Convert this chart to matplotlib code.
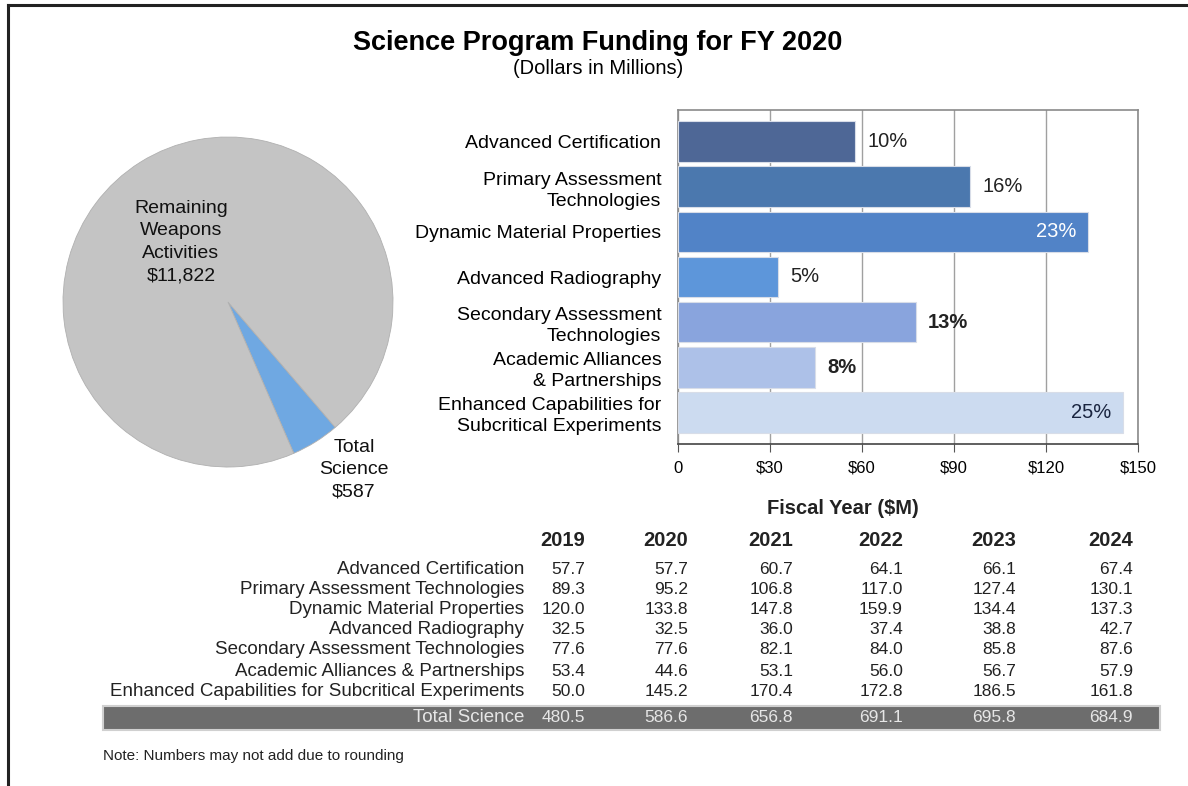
import matplotlib
matplotlib.use("Agg")
import matplotlib.pyplot as plt
from matplotlib.patches import Rectangle
from matplotlib.lines import Line2D

plt.rcParams['font.family'] = ['Liberation Sans', 'DejaVu Sans']

W, H = 1188, 786

# ---- data ----
programs = [
    "Advanced Certification",
    "Primary Assessment Technologies",
    "Dynamic Material Properties",
    "Advanced Radiography",
    "Secondary Assessment Technologies",
    "Academic Alliances & Partnerships",
    "Enhanced Capabilities for Subcritical Experiments",
]
bar_labels = [
    "Advanced Certification",
    "Primary Assessment\nTechnologies",
    "Dynamic Material Properties",
    "Advanced Radiography",
    "Secondary Assessment\nTechnologies",
    "Academic Alliances\n& Partnerships",
    "Enhanced Capabilities for\nSubcritical Experiments",
]
years = ["2019", "2020", "2021", "2022", "2023", "2024"]
fy2019 = [57.7, 89.3, 120.0, 32.5, 77.6, 53.4, 50.0]
fy2020 = [57.7, 95.2, 133.8, 32.5, 77.6, 44.6, 145.2]
fy2021 = [60.7, 106.8, 147.8, 36.0, 82.1, 53.1, 170.4]
fy2022 = [64.1, 117.0, 159.9, 37.4, 84.0, 56.0, 172.8]
fy2023 = [66.1, 127.4, 134.4, 38.8, 85.8, 56.7, 186.5]
fy2024 = [67.4, 130.1, 137.3, 42.7, 87.6, 57.9, 161.8]
totals = [480.5, 586.6, 656.8, 691.1, 695.8, 684.9]
share_labels = ["10%", "16%", "23%", "5%", "13%", "8%", "25%"]

pie_labels = ["Total\nScience\n$587", "Remaining\nWeapons\nActivities\n$11,822"]
pie_values = [587, 11822]

bar_colors = ["#4e6796", "#4b78ae", "#5183c7", "#5d96da", "#89a4dd", "#adc1e8", "#ccdbf0"]

fig = plt.figure(figsize=(W / 100, H / 100), dpi=100)
fig.patch.set_facecolor("white")


def fx(x):
    return x / W


def fy(y):
    return 1 - y / H


def px_axes(left, top, right, bottom):
    return fig.add_axes([fx(left), fy(bottom), (right - left) / W, (bottom - top) / H])


# page frame (top and left rules)
fig.add_artist(Line2D([fx(8), 1.0], [fy(5), fy(5)], color="#222222", lw=2.2))
fig.add_artist(Line2D([fx(8), fx(8)], [fy(5), 0.0], color="#222222", lw=2.2))

# titles
fig.text(fx(598), fy(43), "Science Program Funding for FY 2020", ha="center", va="center",
         fontsize=19.5, fontweight="bold", color="black")
fig.text(fx(598), fy(69), "(Dollars in Millions)", ha="center", va="center",
         fontsize=14.5, color="black")

# ---- pie ----
cx, cy, r = 228, 302, 165
pax = px_axes(cx - r, cy - r, cx + r, cy + r)
pax.pie(pie_values, colors=["#6fa8e2", "#c4c4c4"], startangle=-66.5, counterclock=True,
        radius=1.0, wedgeprops=dict(edgecolor="#b0b0b0", linewidth=0.6))
pax.set_xlim(-1, 1)
pax.set_ylim(-1, 1)
pax.set_aspect("equal")
pax.axis("off")
fig.text(fx(181), fy(242), pie_labels[1], ha="center", va="center", fontsize=14,
         linespacing=1.42, color="#111111")
fig.text(fx(354), fy(470), pie_labels[0], ha="center", va="center", fontsize=14,
         linespacing=1.42, color="#111111")

# ---- bars ----
bax = px_axes(678, 110, 1138, 444)
ypos = list(range(len(fy2020)))
bax.barh(ypos, fy2020, height=0.9, color=bar_colors, edgecolor="#d8dde8", linewidth=0.8, zorder=3)
bax.set_xlim(0, 150)
bax.set_ylim(len(fy2020) - 0.3, -0.7)
bax.set_xticks([0, 30, 60, 90, 120, 150])
bax.set_xticklabels(["0", "$30", "$60", "$90", "$120", "$150"], fontsize=12)
bax.set_yticks(ypos)
bax.set_yticklabels(bar_labels, fontsize=14, linespacing=1.3)
bax.tick_params(axis="y", length=0, pad=12)
bax.tick_params(axis="x", length=6, color="#555555", pad=6, direction="out")
bax.grid(axis="x", color="#a0a0a0", linewidth=1.0, zorder=0)
for s in bax.spines.values():
    s.set_color("#8a8a8a")
    s.set_linewidth(1.2)
bax.spines["bottom"].set_color("#444444")

for i, (v, lab) in enumerate(zip(fy2020, share_labels)):
    if lab == "23%":
        bax.text(v - 4, i, lab, ha="right", va="center", fontsize=14.5, color="white", zorder=4)
    elif lab == "25%":
        bax.text(v - 4, i, lab, ha="right", va="center", fontsize=14.5, color="#1a2540", zorder=4)
    else:
        weight = "bold" if lab in ("13%", "8%") else "normal"
        bax.text(v + 4, i, lab, ha="left", va="center", fontsize=14.5, color="#222222",
                 fontweight=weight, zorder=4)

# ---- table ----
fig.text(fx(843), fy(508), "Fiscal Year ($M)", ha="center", va="center", fontsize=14.5,
         fontweight="bold", color="#222222")
col_right = [585, 688, 793, 903, 1016, 1133]
row_y = [569, 589, 610, 630, 650, 671, 691]
columns = [fy2019, fy2020, fy2021, fy2022, fy2023, fy2024]
for xr, yr in zip(col_right, years):
    fig.text(fx(xr), fy(540), yr, ha="right", va="center", fontsize=14.5, fontweight="bold",
             color="#222222")
for j, name in enumerate(programs):
    fig.text(fx(524), fy(row_y[j]), name, ha="right", va="center", fontsize=13.5, color="#222222")
    for xr, col in zip(col_right, columns):
        fig.text(fx(xr), fy(row_y[j]), f"{col[j]:.1f}", ha="right", va="center",
                 fontsize=12.5, color="#222222")

# total row band
fig.add_artist(Rectangle((fx(103), fy(730)), (1160 - 103) / W, 24 / H,
                         facecolor="#6d6d6d", edgecolor="#d0d0d0", linewidth=1.5))
fig.text(fx(524), fy(718), "Total Science", ha="right", va="center", fontsize=13.5, color="#e6e6e6")
for xr, t in zip(col_right, totals):
    fig.text(fx(xr), fy(718), f"{t:.1f}", ha="right", va="center", fontsize=12.5, color="#e6e6e6")

fig.text(fx(103), fy(756), "Note: Numbers may not add due to rounding", ha="left", va="center",
         fontsize=11, color="#222222")

fig.savefig("out.png", dpi=100, facecolor="white")
